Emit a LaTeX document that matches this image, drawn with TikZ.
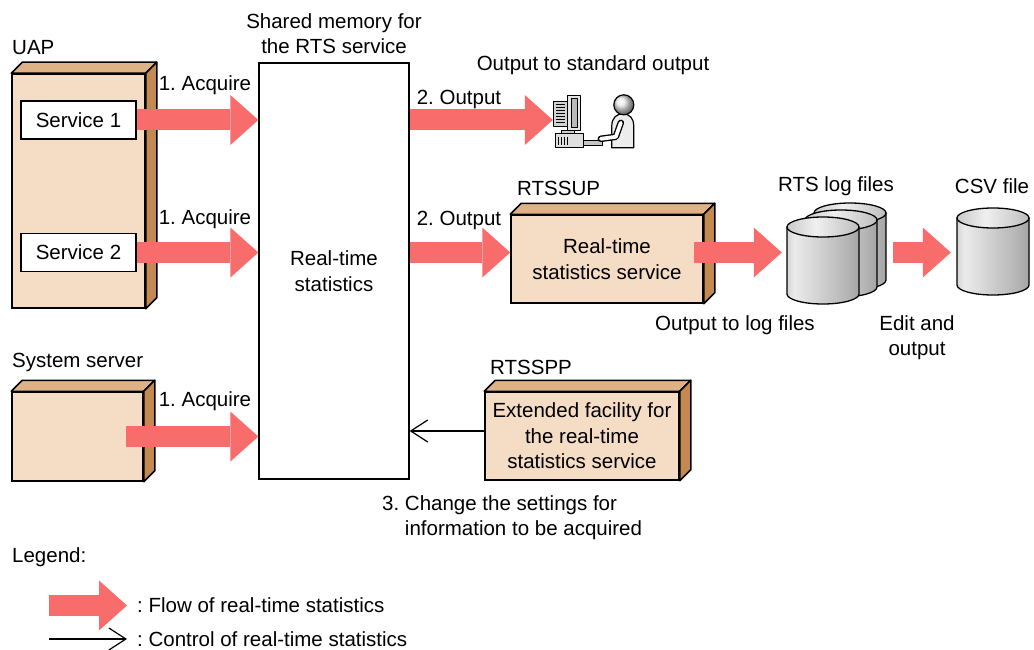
\documentclass[tikz,border=0pt]{standalone}
\usepackage{fontspec}
\setmainfont{Liberation Sans}
\usepackage{tikz}
\usetikzlibrary{arrows.meta,positioning,calc,fit}
\usepackage{xcolor}
\definecolor{FlowRed}{HTML}{F86C6C}
\definecolor{CrateFront}{HTML}{F5DCC4}
\definecolor{CrateTop}{HTML}{DEB287}
\definecolor{CrateSide}{HTML}{C48950}
\pgfdeclarehorizontalshading{drumBody}{100bp}{color(0bp)=(black!58); color(30bp)=(black!8); color(65bp)=(black!28); color(100bp)=(black!55)}
\pgfdeclarehorizontalshading{drumLid}{100bp}{color(0bp)=(black!40); color(45bp)=(black!6); color(100bp)=(black!42)}
\frenchspacing

\begin{document}
\begin{tikzpicture}[
        %Environment Cfg.
        x=1pt, y=-1pt,
        font=\fontsize{20.5}{25.5}\selectfont,
        %Environment Styles.
        crate/.style={
            rectangle,
            inner sep=0pt,
            draw=black,
            line width=1.5pt,
            fill=CrateFront
        },
        crateTop/.style={fill=CrateTop, draw=black, line width=1.5pt, line join=round},
        crateSide/.style={fill=CrateSide, draw=black, line width=1.5pt, line join=round},
        svcBox/.style={
            rectangle,
            draw=black,
            line width=1.3pt,
            fill=white,
            minimum width=115pt,
            minimum height=38pt
        },
        memBox/.style={rectangle, inner sep=0pt, draw=black, line width=1.3pt, fill=white},
        drum/.style={shade, shading=drumBody, draw=black, line width=1.3pt, line join=round},
        drumLid/.style={shade, shading=drumLid, draw=black, line width=1.3pt},
        flow/.style={FlowRed, line width=21pt, -{Triangle[length=28pt,width=50pt,line width=0pt]}},
        ctrl/.style={black, line width=1.2pt, -{Straight Barb[length=17pt,width=22pt]}},
        lbl/.style={inner sep=0pt, align=center},
        tag/.style={lbl, yshift=-2.5pt},
    ]
    \useasboundingbox (0,0) rectangle (1034,650);

    %3D box with a lid and a right side
    %\Crate{name}{front top-left}{front bottom-right}{text}
    \def\Crate#1#2#3#4{
        \node[crate, fit={(#2) (#3)}](#1){};
        \draw[crateTop] (#1.north west) -- ++(11,-11) -- ($(#1.north east)+(11,-11)$) -- (#1.north east) -- cycle;
        \draw[crateSide] (#1.north east) -- ++(11,-11) -- ($(#1.south east)+(11,-11)$) -- (#1.south east) -- cycle;
        \node[lbl](#1-txt) at (#1.center){#4};
    }
    %Disc drum: \Drum{name}{centre x}{lid y}
    \def\Drum#1#2#3{
        \draw[drum] (#2-36,#3) -- (#2-36,#3+67) arc[start angle=180,end angle=0,x radius=36,y radius=10] -- (#2+36,#3) -- cycle;
        \draw[drumLid] (#2,#3) ellipse[x radius=36,y radius=10];
        \node[inner sep=0pt, minimum width=72pt, minimum height=87pt](#1) at (#2,#3+33.5){};
    }

    %Left side: UAP and system server
    \node[tag, anchor=west] at (12,45) {UAP};
    \Crate{uap}{12,74}{145,308}{}
    \node[svcBox] (s1) at (78.5,120) {Service 1};
    \node[svcBox] (s2) at (78.5,252.5) {Service 2};
    \node[tag, anchor=west] at (12,360) {System server};
    \Crate{sys}{12,392}{143,481}{}

    %Shared memory
    \node[memBox, fit={(259,63) (409,479)}] (core) {};
    \node[lbl] (core-txt) at (core.center) {Real-time\\statistics};
    \node[tag] at (334,31) {Shared memory for\\the RTS service};

    %Standard output terminal
    \node[tag] at (593,63) {Output to standard output};
    \node[inner sep=0pt, minimum width=80pt, minimum height=56pt] (pc) at (593,120) {};
    \begin{scope}[shift={(pc.north west)}, line join=round]
        \draw[fill=gray!35, line width=1pt] (1,10) rectangle (15,35);
        \foreach \v in {13,16,...,31}
            \draw[line width=0.8pt] (3,\v) -- (12,\v);
        \draw[fill=gray!20, line width=1.2pt] (15,4) rectangle (28,39);
        \draw[fill=gray!55, line width=0.8pt] (19,7) rectangle (25,36);
        \draw[fill=gray!40, line width=1pt] (9,39) rectangle (22,42);
        \draw[fill=gray!25, line width=1.2pt] (3,42) rectangle (31,56);
        \foreach \v in {6,9,12,15}
            \draw[line width=0.8pt] (\v,45) -- (\v,53);
        \draw[fill=gray!45, line width=1pt] (31,49) rectangle (50,54);
        \draw[fill=gray!15, line width=1.2pt] (59,56) -- (59,34) .. controls (59,26) and (64,22) .. (70,22) .. controls (77,22) and (81,27) .. (81,34) -- (81,56) -- cycle;
        \draw[line width=6.5pt, line cap=round] (68,31) -- (63,45) -- (48,47);
        \draw[line width=3.8pt, white, line cap=round] (68,31) -- (63,45) -- (48,47);
        \shadedraw[ball color=gray!15, line width=1.2pt] (71,13) circle[radius=10];
    \end{scope}

    %RTSSUP and the log files
    \node[tag, anchor=west] at (517,186) {RTSSUP};
    \Crate{rtssup}{511,215}{703,303}{Real-time\\statistics service}
    \node[tag] at (836,184) {RTS log files};
    \Drum{log3}{850}{213}
    \Drum{log2}{841}{220}
    \Drum{log1}{823}{227}
    \node[tag] at (992,184) {CSV file};
    \Drum{csv}{993}{218}
    \node[tag] at (735,323) {Output to log files};
    \node[tag] at (917,335) {Edit and\\output};

    %RTSSPP
    \node[tag, anchor=west] at (490,365) {RTSSPP};
    \Crate{rtsspp}{485,392}{679,480}{Extended facility for\\the real-time\\statistics service}
    \node[tag, align=left, anchor=west] at (382,515) {3. Change the settings for\\\hphantom{3. }information to be acquired};

    %Flows
    \node[tag] at (205,83) {1. Acquire};
    \node[tag] at (205,217) {1. Acquire};
    \node[tag] at (205,399) {1. Acquire};
    \node[tag] at (459,97) {2. Output};
    \node[tag] at (459,218) {2. Output};
    \coordinate (sysOut) at ($(sys.east)+(-18,0)$);
    \draw[flow] (s1.east) -- (s1.east -| core.west);
    \draw[flow] (s2.east) -- (s2.east -| core.west);
    \draw[flow] (sysOut) -- (sysOut -| core.west);
    \draw[flow] (s1.east -| core.east) -- (s1.east -| pc.west);
    \draw[flow] (s2.east -| core.east) -- (s2.east -| rtssup.west);
    \draw[flow] ($(s2.east -| rtssup.east)+(-10,0)$) -- ($(s2.east -| log1.west)+(-5,0)$);
    \draw[flow] ($(s2.east -| log3.east)+(7,0)$) -- ($(s2.east -| csv.west)+(-6,0)$);
    \coordinate (ctrlIn) at ($(rtsspp.west)+(0,-5)$);
    \draw[ctrl] (ctrlIn) -- (ctrlIn -| core.east);

    %Legend
    \node[tag, anchor=west] at (12,555) {Legend:};
    \node[tag, anchor=west] (lgFlow) at (137,603) {: Flow of real-time statistics};
    \node[lbl, anchor=west] (lgCtrl) at (137,639) {: Control of real-time statistics};
    \draw[flow] ($(lgFlow.west)+(-88,0)$) -- ($(lgFlow.west)+(-10,0)$);
    \draw[ctrl] ($(lgCtrl.west)+(-88,0)$) -- ($(lgCtrl.west)+(-10,0)$);
\end{tikzpicture}
\end{document}
